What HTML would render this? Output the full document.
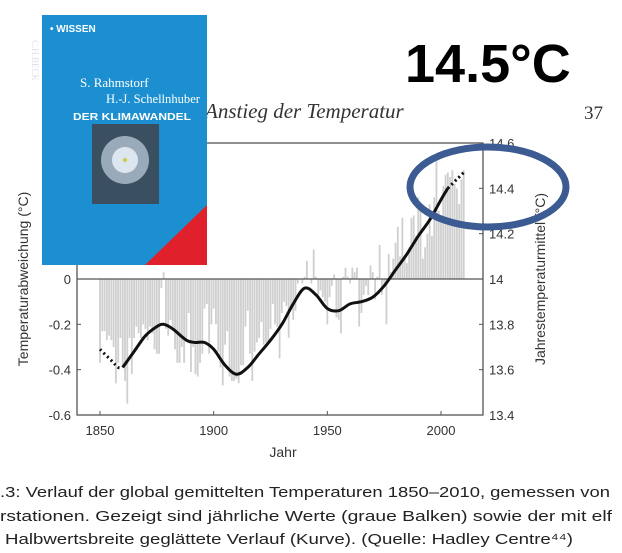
<!DOCTYPE html>
<html><head><meta charset="utf-8"><style>
body{margin:0;background:#fff;}
svg{display:block;font-family:"Liberation Sans",sans-serif;}
</style></head><body>
<svg width="622" height="553" viewBox="0 0 622 553">
<g id="bars"></g>
<g id="axes"></g>
<g id="curve"></g>
<text x="205" y="118" font-family="Liberation Serif,serif" font-style="italic" font-size="21" fill="#333">Anstieg der Temperatur</text>
<text x="584" y="119" font-family="Liberation Serif,serif" font-size="19" fill="#333">37</text>
<text x="28" y="279" transform="rotate(-90 28 279)" text-anchor="middle" font-size="14" fill="#333">Temperaturabweichung (°C)</text>
<text x="545" y="279" transform="rotate(-90 545 279)" text-anchor="middle" font-size="14" fill="#333">Jahrestemperaturmittel (°C)</text>
<text x="283" y="457" text-anchor="middle" font-size="14" fill="#333">Jahr</text>
<g>
<rect x="42" y="15" width="165" height="250" fill="#1b8fcf"/>
<polygon points="207,205 207,265 145,265" fill="#e0202a"/>
<text x="50" y="32" font-size="10" font-weight="bold" fill="#fff">• WISSEN</text>
<text x="50" y="58" font-family="Liberation Serif,serif" font-size="9" fill="#dde" transform="rotate(90 50 40)">C.H.BECK</text>
<text x="80" y="87" font-family="Liberation Serif,serif" font-size="13" fill="#fff">S. Rahmstorf</text>
<text x="106" y="103" font-family="Liberation Serif,serif" font-size="13" fill="#fff" textLength="94" lengthAdjust="spacingAndGlyphs">H.-J. Schellnhuber</text>
<text x="73" y="120" font-size="10" font-weight="bold" fill="#fff" textLength="118" lengthAdjust="spacingAndGlyphs">DER KLIMAWANDEL</text>
<rect x="92" y="124" width="67" height="80" fill="#3a5060"/>
<circle cx="125" cy="160" r="24" fill="#9ab"/>
<circle cx="125" cy="160" r="13" fill="#dde6ee"/>
<circle cx="125" cy="160" r="2" fill="#cc4"/>
</g>
<text x="405" y="82" font-size="54" font-weight="bold" fill="#000">14.5°C</text>
<ellipse cx="488" cy="187" rx="78" ry="40" fill="none" stroke="#3c5b92" stroke-width="7"/>
<g font-size="15" fill="#222">
<text x="0" y="497" textLength="610" lengthAdjust="spacingAndGlyphs">.3: Verlauf der global gemittelten Temperaturen 1850–2010, gemessen von</text>
<text x="0" y="521" textLength="612" lengthAdjust="spacingAndGlyphs">rstationen. Gezeigt sind jährliche Werte (graue Balken) sowie der mit elf</text>
<text x="5" y="544" textLength="568" lengthAdjust="spacingAndGlyphs">Halbwertsbreite geglättete Verlauf (Kurve). (Quelle: Hadley Centre⁴⁴)</text>
</g>
</svg>
<script>
const years=[];for(let y=1850;y<=2010;y++)years.push(y);
const anomalies=[
-0.37,-0.23,-0.23,-0.27,-0.25,-0.27,-0.30,-0.46,-0.37,-0.26,
-0.39,-0.45,-0.55,-0.26,-0.42,-0.26,-0.21,-0.24,-0.26,-0.20,
-0.22,-0.27,-0.21,-0.24,-0.31,-0.33,-0.33,-0.04,0.03,-0.22,
-0.25,-0.18,-0.22,-0.31,-0.37,-0.37,-0.30,-0.37,-0.26,-0.15,
-0.41,-0.30,-0.42,-0.43,-0.37,-0.33,-0.13,-0.11,-0.33,-0.20,
-0.13,-0.20,-0.32,-0.39,-0.47,-0.29,-0.23,-0.43,-0.45,-0.45,
-0.44,-0.46,-0.38,-0.38,-0.21,-0.14,-0.33,-0.45,-0.32,-0.28,
-0.26,-0.19,-0.29,-0.28,-0.28,-0.22,-0.11,-0.20,-0.21,-0.35,
-0.15,-0.10,-0.12,-0.26,-0.13,-0.18,-0.14,-0.02,0.00,-0.02,
0.01,0.08,0.00,-0.02,0.13,0.01,-0.07,-0.05,-0.08,-0.10,
-0.20,-0.08,-0.03,0.02,-0.17,-0.18,-0.24,0.01,0.05,0.01,
-0.02,0.05,0.03,0.05,-0.21,-0.15,-0.07,-0.03,-0.07,0.06,
0.03,-0.09,0.01,0.15,-0.07,-0.02,-0.20,0.11,0.03,0.09,
0.16,0.23,0.10,0.27,0.09,0.07,0.14,0.27,0.28,0.19,
0.36,0.31,0.09,0.14,0.20,0.33,0.19,0.36,0.53,0.30,
0.28,0.41,0.46,0.47,0.45,0.48,0.42,0.40,0.33,0.44,
0.48];
const smoothYears=[1850,1855,1858,1860,1865,1870,1875,1878,1882,1888,1892,1896,1900,1905,1910,1915,1920,1925,1930,1935,1940,1945,1950,1955,1960,1965,1970,1975,1980,1985,1990,1995,2000,2003,2006,2008,2010];
const smoothVals=[-0.31,-0.36,-0.39,-0.39,-0.32,-0.25,-0.21,-0.20,-0.22,-0.27,-0.28,-0.28,-0.31,-0.38,-0.42,-0.39,-0.33,-0.27,-0.20,-0.11,-0.04,-0.07,-0.13,-0.14,-0.11,-0.10,-0.08,-0.03,0.04,0.11,0.19,0.26,0.35,0.40,0.43,0.45,0.47];
const leftTicks=[0,-0.2,-0.4,-0.6];const leftTickLabels=["0","-0.2","-0.4","-0.6"];
const rightTicks=[-0.6,-0.4,-0.2,0,0.2,0.4,0.6];const rightTickLabels=["13.4","13.6","13.8","14","14.2","14.4","14.6"];
const xTicks=[1850,1900,1950,2000];
const NS="http://www.w3.org/2000/svg";
const X0=77,X1=483,Y0=143,Y1=415;
const xs=y=>100+(y-1850)*(341/150);
const ys=v=>279-v*(136/0.6);
function mk(t,a,p){const e=document.createElementNS(NS,t);for(const k in a)e.setAttribute(k,a[k]);p.appendChild(e);return e;}
const bars=document.getElementById('bars');
anomalies.forEach((v,i)=>{const x=xs(years[i]);const r=mk('rect',{x:x-0.9,width:1.8,y:Math.min(ys(v),ys(0)),height:Math.abs(ys(v)-ys(0)),fill:'#cfcfcf'},bars);

});
const ax=document.getElementById('axes');
mk('rect',{x:X0,y:Y0,width:X1-X0,height:Y1-Y0,fill:'none',stroke:'#555','stroke-width':1.3},ax);
mk('line',{x1:X0,x2:X1,y1:ys(0),y2:ys(0),stroke:'#555','stroke-width':1.3},ax);
leftTicks.forEach((v,i)=>{mk('line',{x1:X0,x2:X0+4,y1:ys(v),y2:ys(v),stroke:'#555'},ax);
const t=mk('text',{x:X0-6,y:ys(v)+5,'text-anchor':'end','font-size':13,fill:'#333'},ax);t.textContent=leftTickLabels[i];

});
rightTicks.forEach((v,i)=>{mk('line',{x1:X1-4,x2:X1,y1:ys(v),y2:ys(v),stroke:'#555'},ax);
const t=mk('text',{x:X1+6,y:ys(v)+5,'font-size':13,fill:'#333'},ax);t.textContent=rightTickLabels[i];

});
xTicks.forEach(y=>{mk('line',{x1:xs(y),x2:xs(y),y1:Y1,y2:Y1-4,stroke:'#555'},ax);
const t=mk('text',{x:xs(y),y:Y1+20,'text-anchor':'middle','font-size':13,fill:'#333'},ax);t.textContent=y;

});
const cv=document.getElementById('curve');
function path(a,b){const P=[];for(let i=a;i<=b;i++)P.push([xs(smoothYears[i]),ys(smoothVals[i])]);
let d='M'+P[0][0].toFixed(1)+','+P[0][1].toFixed(1);
for(let i=0;i<P.length-1;i++){const p0=P[Math.max(0,i-1)],p1=P[i],p2=P[i+1],p3=P[Math.min(P.length-1,i+2)];
const c1=[p1[0]+(p2[0]-p0[0])/6,p1[1]+(p2[1]-p0[1])/6],c2=[p2[0]-(p3[0]-p1[0])/6,p2[1]-(p3[1]-p1[1])/6];
d+='C'+c1.map(v=>v.toFixed(1)).join(',')+' '+c2.map(v=>v.toFixed(1)).join(',')+' '+p2.map(v=>v.toFixed(1)).join(',');}
return d;}
const n=smoothYears.length;
const s=mk('path',{d:path(3,n-4),fill:'none',stroke:'#111','stroke-width':3,'stroke-linejoin':'round'},cv);


[[0,3],[n-4,n-1]].forEach(([a,b])=>{const p=mk('path',{d:path(a,b),fill:'none',stroke:'#111','stroke-width':3,'stroke-dasharray':'2 3'},cv);

});
</script>
</body></html>
